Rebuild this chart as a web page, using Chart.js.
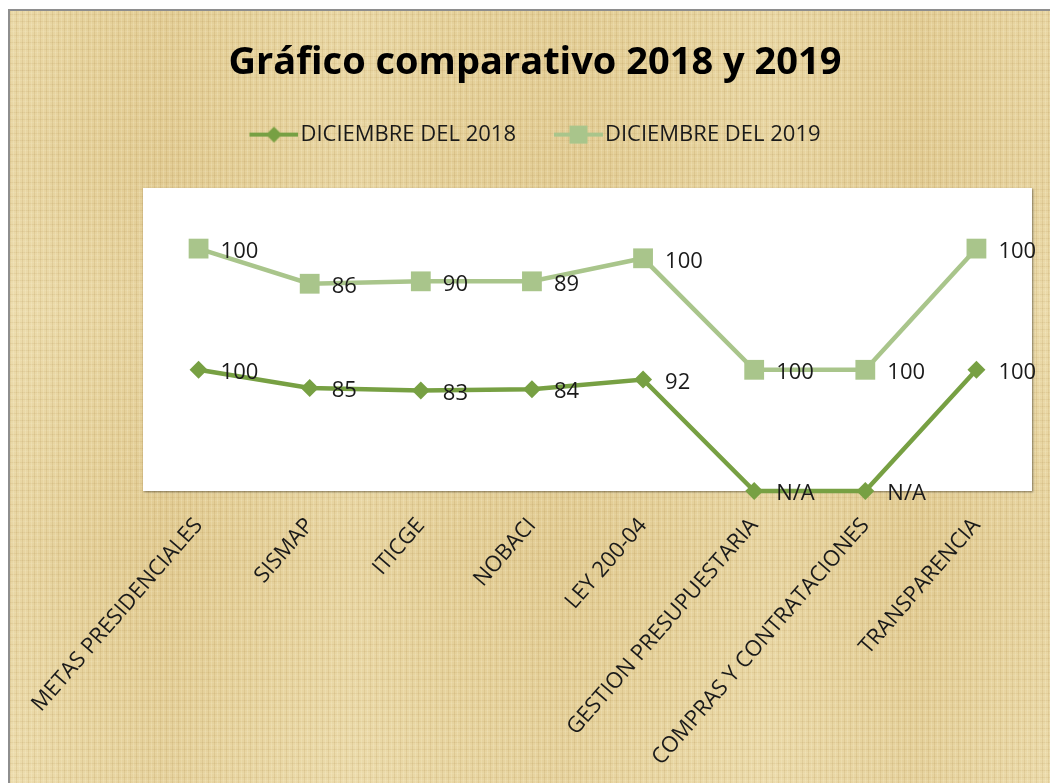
<!DOCTYPE html>
<html lang="es">
<head>
<meta charset="UTF-8" />
<meta name="viewport" content="width=device-width, initial-scale=1.0"/>
<title>Gráfico comparativo 2018 y 2019</title>
<style>
  html, body { margin: 0; padding: 0; background: #fff; }
  body { width: 1050px; height: 783px; position: relative; overflow: hidden; }
  /* parchment look behind the chart */
  .paper {
    position: absolute; left: 8px; top: 9px; width: 1042px; height: 774px;
    border-left: 2px solid #8e8e8e; border-top: 2px solid #8e8e8e;
    background:
      repeating-linear-gradient(90deg, rgba(150,110,40,.12) 0 1px, rgba(0,0,0,0) 1px 3px, rgba(255,250,225,.16) 3px 4px, rgba(0,0,0,0) 4px 6px),
      repeating-linear-gradient(0deg, rgba(150,110,40,.09) 0 1px, rgba(0,0,0,0) 1px 4px, rgba(255,250,225,.10) 4px 5px, rgba(0,0,0,0) 5px 7px),
      linear-gradient(90deg, rgba(255,248,220,.18) 0%, rgba(0,0,0,0) 8%, rgba(190,150,75,.07) 15%, rgba(0,0,0,0) 22%, rgba(255,248,220,.15) 33%, rgba(0,0,0,0) 42%, rgba(190,150,75,.06) 53%, rgba(0,0,0,0) 62%, rgba(255,248,220,.14) 73%, rgba(190,150,75,.07) 87%, rgba(255,248,220,.12) 100%),
      linear-gradient(0deg, rgba(255,248,220,.12) 0%, rgba(0,0,0,0) 15%, rgba(190,150,75,.06) 30%, rgba(0,0,0,0) 45%, rgba(255,248,220,.12) 62%, rgba(190,150,75,.05) 80%, rgba(0,0,0,0) 100%),
      #e6d29c;
  }
  .chart-box { position: absolute; left: 0; top: 0; width: 1050px; height: 783px; }
</style>
</head>
<body>
  <div class="paper"></div>
  <div class="chart-box"><canvas id="compChart"></canvas></div>

<script src="https://cdn.jsdelivr.net/npm/chart.js"></script>
<script>
// DATA
const categories = ["METAS PRESIDENCIALES", "SISMAP", "ITICGE", "NOBACI", "LEY 200-04",
  "GESTION PRESUPUESTARIA", "COMPRAS Y CONTRATACIONES", "TRANSPARENCIA"];
const seriesNames = ["DICIEMBRE DEL 2018", "DICIEMBRE DEL 2019"];
const values2018 = [100, 85, 83, 84, 92, null, null, 100]; // null = N/A
const values2019 = [100, 86, 90, 89, 100, 100, 100, 100];
const yMax = 250; // stacked axis top

const color2018 = "#77a043";
const color2019 = "#a9c58b";
const textColor = "#1a1a1a";
const rawSeries = [values2018, values2019];

// legend icon: short line with the marker in the middle
function legendIcon(color, shape) {
  const c = document.createElement("canvas");
  c.width = 58; c.height = 22;
  const g = c.getContext("2d");
  g.strokeStyle = color; g.lineWidth = 4;
  g.beginPath(); g.moveTo(9, 11); g.lineTo(58, 11); g.stroke();
  g.fillStyle = color;
  const cx = 33.5;
  if (shape === "diamond") {
    g.beginPath();
    g.moveTo(cx - 8, 11); g.lineTo(cx, 3); g.lineTo(cx + 8, 11); g.lineTo(cx, 19);
    g.closePath(); g.fill();
  } else {
    g.fillRect(cx - 9, 2, 18, 18);
  }
  return c;
}
const legendIcons = [legendIcon(color2018, "diamond"), legendIcon(color2019, "square")];

// white plot area
const plotBackground = {
  id: "plotBackground",
  beforeDraw(chart) {
    const { ctx, chartArea: a } = chart;
    ctx.save();
    ctx.shadowColor = "rgba(0,0,0,0.45)";
    ctx.shadowBlur = 2;
    ctx.shadowOffsetY = 1;
    ctx.shadowOffsetX = 0.5;
    ctx.fillStyle = "#ffffff";
    ctx.fillRect(a.left, a.top, a.right - a.left, a.bottom - a.top);
    ctx.restore();
  }
};

// value labels right of each point
const pointLabels = {
  id: "pointLabels",
  afterDatasetsDraw(chart) {
    const ctx = chart.ctx;
    ctx.save();
    ctx.font = '22px "Open Sans"';
    ctx.fillStyle = textColor;
    ctx.textAlign = "left";
    ctx.textBaseline = "middle";
    rawSeries.forEach((vals, i) => {
      chart.getDatasetMeta(i).data.forEach((pt, j) => {
        const v = vals[j];
        ctx.fillText(v === null ? "N/A" : String(v), pt.x + 22, pt.y + 3);
      });
    });
    ctx.restore();
  }
};

const ctx = document.getElementById("compChart").getContext("2d");
new Chart(ctx, {
  type: "line",
  data: {
    labels: categories,
    datasets: [
      {
        label: seriesNames[0],
        data: values2018.map(v => v === null ? 0 : v),
        borderColor: color2018,
        backgroundColor: color2018,
        borderWidth: 4.5,
        pointStyle: "rectRot",
        pointRadius: 9,
        pointBorderWidth: 0,
        fill: false,
        clip: false
      },
      {
        label: seriesNames[1],
        data: values2019,
        borderColor: color2019,
        backgroundColor: color2019,
        borderWidth: 4.5,
        pointStyle: "rect",
        pointRadius: 14,
        pointBorderWidth: 0,
        fill: false,
        clip: false
      }
    ]
  },
  options: {
    responsive: true,
    maintainAspectRatio: false,
    animation: false,
    layout: { padding: { left: 38, right: 18, top: 0, bottom: 0 } },
    scales: {
      x: {
        offset: true,
        grid: { display: false, drawTicks: false },
        border: { display: false },
        ticks: {
          autoSkip: false,
          minRotation: 49,
          maxRotation: 49,
          padding: 22,
          color: textColor,
          font: { family: "Open Sans", size: 22 }
        },
        afterFit(scale) { scale.height = 292; }
      },
      y: {
        stacked: true,
        min: 0,
        max: yMax,
        grid: { display: false, drawTicks: false },
        border: { display: false },
        ticks: { display: false },
        afterFit(scale) { scale.width = 105; }
      }
    },
    plugins: {
      title: {
        display: true,
        text: "Gráfico comparativo 2018 y 2019",
        color: "#000",
        font: { family: "Open Sans", size: 38, weight: "bold" },
        padding: { top: 40, bottom: 0 }
      },
      legend: {
        display: true,
        position: "top",
        labels: {
          usePointStyle: true,
          pointStyleWidth: 40,
          padding: 38,
          color: textColor,
          font: { family: "Open Sans", size: 22 },
          generateLabels(chart) {
            const items = Chart.defaults.plugins.legend.labels.generateLabels(chart);
            items.forEach((it, i) => { it.pointStyle = legendIcons[i]; });
            return items;
          }
        }
      },
      // empty spacer between legend and plot area
      subtitle: {
        display: true,
        text: "",
        weight: 500,
        padding: 0,
        font: { size: 10, lineHeight: 3.24 }
      },
      tooltip: { enabled: false }
    }
  },
  plugins: [plotBackground, pointLabels]
});
</script>
</body>
</html>
